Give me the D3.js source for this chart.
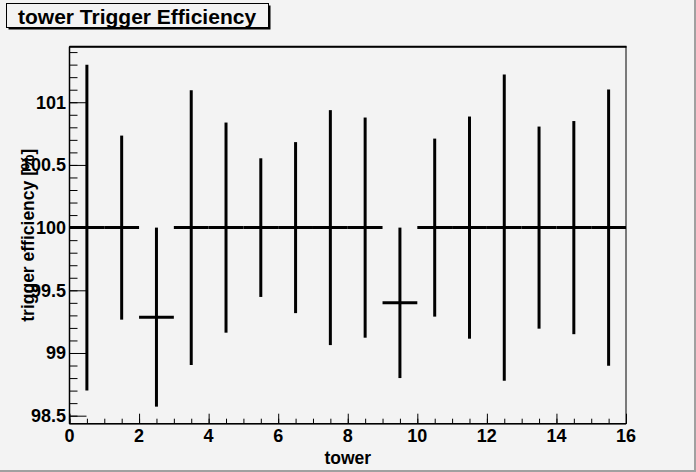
<!DOCTYPE html>
<html>
<head>
<meta charset="utf-8">
<script src="https://cdn.jsdelivr.net/npm/d3@7"></script>
<style>
html,body{margin:0;padding:0;background:#f3f3f3;}
svg{display:block;}
text{font-family:"Liberation Sans",Arial,Helvetica,sans-serif;font-weight:bold;fill:#000;}
</style>
</head>
<body>
<script>
// Data
const towers = [0.5,1.5,2.5,3.5,4.5,5.5,6.5,7.5,8.5,9.5,10.5,11.5,12.5,13.5,14.5,15.5];
const efficiency = [100,100,99.286,100,100,100,100,100,100,99.4,100,100,100,100,100,100];
const errors = [1.30,0.734,0.714,1.095,0.838,0.553,0.682,0.937,0.878,0.60,0.71,0.886,1.221,0.806,0.85,1.101];
const binHalfWidth = 0.5;
const xTicks = [0,2,4,6,8,10,12,14,16];
const yTicks = [98.5,99,99.5,100,100.5,101];
const titleText = "tower Trigger Efficiency";
const xTitle = "tower";
const yTitle = "trigger efficiency [%]";

const W = 696, H = 472;
const L = 69.5, R = 626, T = 46.7, B = 423.7;

const svg = d3.select("body").append("svg").attr("width", W).attr("height", H);
svg.append("rect").attr("width", W).attr("height", H).attr("fill", "#f3f3f3");
// canvas bevel
svg.append("rect").attr("x", W-2).attr("y", 0).attr("width", 2).attr("height", H).attr("fill", "#a0a0a0");
svg.append("rect").attr("x", 0).attr("y", H-2).attr("width", W).attr("height", 2).attr("fill", "#a0a0a0");

const x = d3.scaleLinear().domain([0,16]).range([L, R]);
const y = d3.scaleLinear().domain([98.436, 101.443]).range([B, T]);

// frame
svg.append("rect").attr("x", L).attr("y", T).attr("width", R-L).attr("height", B-T)
  .attr("fill", "none").attr("stroke", "#000").attr("stroke-width", 1);
svg.append("line").attr("x1", L).attr("x2", R+0.5).attr("y1", T).attr("y2", T)
  .attr("stroke", "#000").attr("stroke-width", 2);

// Y axis ticks (inward)
const yMinor = d3.range(984, 1015).map(v => v/10).filter(v => v >= 98.436 && v <= 101.443);
const yAxisMinor = d3.axisRight(y).tickValues(yMinor).tickSize(8).tickFormat("");
const yAxisMajor = d3.axisRight(y).tickValues(yTicks).tickSize(17).tickFormat("");
const gYm = svg.append("g").attr("transform", `translate(${L},0)`).call(yAxisMinor);
const gYM = svg.append("g").attr("transform", `translate(${L},0)`).call(yAxisMajor);
[gYm, gYM].forEach(g => { g.select(".domain").remove(); g.selectAll("line").attr("stroke", "#000").attr("stroke-width", 1); });
svg.append("line").attr("x1", L).attr("x2", L).attr("y1", T).attr("y2", B).attr("stroke", "#000").attr("stroke-width", 1.5);

// Y tick labels
svg.append("g").selectAll("text").data(yTicks).join("text")
  .attr("x", L - 3.5).attr("y", d => y(d)).attr("dy", "0.36em")
  .attr("text-anchor", "end").attr("font-size", 18).text(d => d3.format("")(d));

// X axis ticks (inward)
const xMinor = d3.range(0, 33).map(v => v/2);
const xAxisMinor = d3.axisTop(x).tickValues(xMinor).tickSize(5).tickFormat("");
const xAxisMajor = d3.axisTop(x).tickValues(xTicks).tickSize(10).tickFormat("");
const gXm = svg.append("g").attr("transform", `translate(0,${B})`).call(xAxisMinor);
const gXM = svg.append("g").attr("transform", `translate(0,${B})`).call(xAxisMajor);
[gXm, gXM].forEach(g => { g.select(".domain").remove(); g.selectAll("line").attr("stroke", "#000").attr("stroke-width", 1); });
svg.append("line").attr("x1", L).attr("x2", R).attr("y1", B).attr("y2", B).attr("stroke", "#000").attr("stroke-width", 1.5);

// X tick labels
svg.append("g").selectAll("text").data(xTicks).join("text")
  .attr("x", d => x(d)).attr("y", B + 18.5)
  .attr("text-anchor", "middle").attr("font-size", 18).text(d => d);

// Axis titles
svg.append("text").attr("x", (L+R)/2).attr("y", 464).attr("text-anchor", "middle")
  .attr("font-size", 17.5).text(xTitle);
svg.append("text").attr("transform", `translate(33.5,${(T+B)/2}) rotate(-90)`)
  .attr("text-anchor", "middle").attr("font-size", 17.5).text(yTitle);

// Error bars
const gData = svg.append("g").attr("stroke", "#000").attr("stroke-width", 3);
gData.selectAll("line.h").data(towers).join("line").attr("class", "h")
  .attr("x1", (d) => x(d - binHalfWidth)).attr("x2", (d) => x(d + binHalfWidth))
  .attr("y1", (d,i) => y(efficiency[i])).attr("y2", (d,i) => y(efficiency[i]));
gData.selectAll("line.v").data(towers).join("line").attr("class", "v")
  .attr("x1", d => x(d)).attr("x2", d => x(d))
  .attr("y1", (d,i) => y(efficiency[i] - errors[i])).attr("y2", (d,i) => y(efficiency[i] + errors[i]));

// Title box
svg.append("rect").attr("x", 8.5).attr("y", 5.5).attr("width", 262).attr("height", 24).attr("fill", "#000");
svg.append("rect").attr("x", 6.5).attr("y", 3.5).attr("width", 262).attr("height", 24)
  .attr("fill", "#f3f3f3").attr("stroke", "#000").attr("stroke-width", 1);
svg.append("text").attr("x", 18).attr("y", 23.5).attr("font-size", 21).text(titleText);
</script>
</body>
</html>
